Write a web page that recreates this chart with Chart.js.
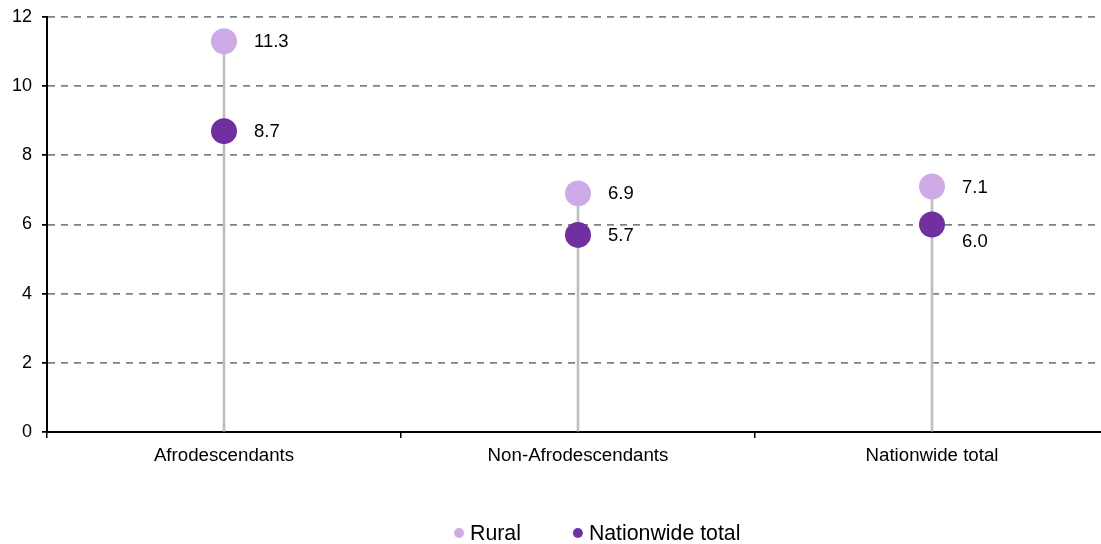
<!DOCTYPE html>
<html>
<head>
<meta charset="utf-8">
<script src="https://cdn.jsdelivr.net/npm/chart.js@4/dist/chart.umd.min.js"></script>
<style>
html, body { margin: 0; padding: 0; background: #fff; overflow: hidden; }
#wrap { width: 1101px; height: 544px; overflow: hidden; }
canvas { display: block; }
</style>
</head>
<body>
<div id="wrap"><canvas id="chart" width="1122" height="544" style="width:1122px;height:544px"></canvas></div>
<script>
const categories = ['Afrodescendants', 'Non-Afrodescendants', 'Nationwide total'];
const seriesNames = ['Rural', 'Nationwide total'];
const rural = [11.3, 6.9, 7.1];
const nationwide = [8.7, 5.7, 6.0];
const yTicks = [0, 2, 4, 6, 8, 10, 12];

const colors = ['#ceaae6', '#7030a0'];
const stemColor = '#bfbfbf';
const FONT = '"Liberation Sans", Arial, sans-serif';

// stems run from zero up to the higher of the two dots
const stems = rural.map((r, i) => Math.max(r, nationwide[i]));

// nudge a value label down when it would sit on a gridline (dataset -> index -> px)
const labelDrop = { 1: { 2: 16 } };

Chart.defaults.font.family = FONT;
Chart.defaults.color = '#000';

const valueLabels = {
    id: 'valueLabels',
    afterDatasetsDraw(chart) {
        const ctx = chart.ctx;
        ctx.save();
        ctx.font = '18.5px ' + FONT;
        ctx.fillStyle = '#000';
        ctx.textBaseline = 'middle';
        ctx.textAlign = 'left';
        [0, 1].forEach(di => {
            const values = chart.data.datasets[di].data;
            chart.getDatasetMeta(di).data.forEach((pt, i) => {
                const drop = (labelDrop[di] && labelDrop[di][i]) || 0;
                ctx.fillText(values[i].toFixed(1), pt.x + 30, pt.y + 1 + drop);
            });
        });
        ctx.restore();
    }
};

const legendRow = {
    id: 'legendRow',
    afterDraw(chart) {
        const ctx = chart.ctx;
        ctx.save();
        ctx.font = '21.3px ' + FONT;
        ctx.textBaseline = 'middle';
        ctx.textAlign = 'left';
        let x = 459;
        const y = 533;
        seriesNames.forEach((name, i) => {
            ctx.fillStyle = colors[i];
            ctx.beginPath();
            ctx.arc(x, y, 5, 0, Math.PI * 2);
            ctx.fill();
            ctx.fillStyle = '#000';
            ctx.fillText(name, x + 11, y + 1);
            x += 11 + ctx.measureText(name).width + 57;
        });
        ctx.restore();
    }
};

new Chart(document.getElementById('chart'), {
    type: 'bar',
    data: {
        labels: categories,
        datasets: [
            {
                type: 'line',
                label: seriesNames[0],
                data: rural,
                showLine: false,
                pointRadius: 13,
                pointHoverRadius: 13,
                pointBorderWidth: 0,
                pointBackgroundColor: colors[0],
                backgroundColor: colors[0],
                order: 0
            },
            {
                type: 'line',
                label: seriesNames[1],
                data: nationwide,
                showLine: false,
                pointRadius: 13,
                pointHoverRadius: 13,
                pointBorderWidth: 0,
                pointBackgroundColor: colors[1],
                backgroundColor: colors[1],
                order: 1
            },
            {
                type: 'bar',
                label: 'stem',
                data: stems,
                backgroundColor: stemColor,
                barThickness: 2,
                order: 2
            }
        ]
    },
    options: {
        responsive: false,
        animation: false,
        layout: { padding: { top: 17, left: 0, right: 1, bottom: 0 } },
        plugins: {
            legend: { display: false },
            tooltip: { enabled: false }
        },
        scales: {
            x: {
                type: 'category',
                offset: true,
                grid: {
                    offset: true,
                    drawOnChartArea: false,
                    color: '#000',
                    tickLength: 6,
                    lineWidth: 1.5
                },
                border: { color: '#000', width: 2 },
                ticks: { font: { size: 18.7 }, color: '#000', padding: 7 },
                afterFit(s) {
                    s.height = 112;
                    s.paddingLeft = 0;
                    s.paddingRight = 0;
                }
            },
            y: {
                min: yTicks[0],
                max: yTicks[yTicks.length - 1],
                ticks: { stepSize: yTicks[1] - yTicks[0], font: { size: 18 }, color: '#000', padding: 10 },
                grid: {
                    color: '#808080',
                    lineWidth: 1.8,
                    tickLength: 5,
                    tickColor: '#000',
                    tickBorderDash: [1, 0]
                },
                border: { color: '#000', width: 2, dash: [7, 6] },
                afterFit(s) {
                    s.width = 47;
                    s.paddingTop = 0;
                    s.paddingBottom = 0;
                }
            }
        }
    },
    plugins: [valueLabels, legendRow]
});
</script>
</body>
</html>
